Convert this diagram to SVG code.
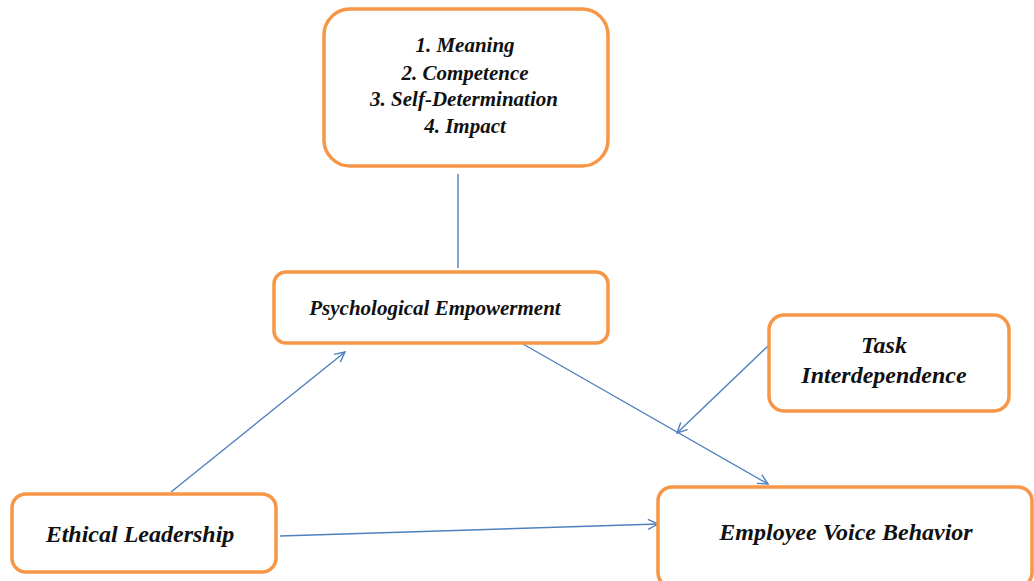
<svg xmlns="http://www.w3.org/2000/svg" width="1034" height="581" viewBox="0 0 1034 581">
  <style>
    .box { fill: #ffffff; stroke: #F79646; stroke-width: 3.5; }
    .lbl { font-family: "Liberation Serif", "Times New Roman", serif; font-style: italic; font-weight: bold; fill: #111111; text-anchor: middle; }
    .conn { stroke: #4F81BD; stroke-width: 1.4; fill: none; }
  </style>
  <defs>
    <marker id="arrow" viewBox="0 0 12 12" refX="11" refY="6" markerWidth="12" markerHeight="12" markerUnits="userSpaceOnUse" orient="auto">
      <path d="M1 1 L11 6 L1 11" fill="none" stroke="#4F81BD" stroke-width="1.4"/>
    </marker>
  </defs>
  <rect width="1034" height="581" fill="#ffffff"/>

  <g id="connectors">
    <line class="conn" x1="458" y1="174" x2="458" y2="268"/>
    <line class="conn" x1="171" y1="492" x2="345" y2="352" marker-end="url(#arrow)"/>
    <line class="conn" x1="523" y1="344" x2="768" y2="484" marker-end="url(#arrow)"/>
    <line class="conn" x1="768" y1="346" x2="677" y2="433" marker-end="url(#arrow)"/>
    <line class="conn" x1="280" y1="536" x2="658" y2="524" marker-end="url(#arrow)"/>
  </g>

  <g id="dimensions">
    <rect class="box" x="324" y="9" width="284" height="157" rx="26"/>
    <text class="lbl" font-size="21" x="465" y="52">1. Meaning</text>
    <text class="lbl" font-size="21" x="465" y="80">2. Competence</text>
    <text class="lbl" font-size="21" x="464" y="106">3. Self-Determination</text>
    <text class="lbl" font-size="21" x="465" y="133">4. Impact</text>
  </g>

  <g id="psychological-empowerment">
    <rect class="box" x="274" y="272" width="334" height="71" rx="12"/>
    <text class="lbl" font-size="21" x="435" y="315">Psychological Empowerment</text>
  </g>

  <g id="task-interdependence">
    <rect class="box" x="769" y="315" width="240" height="96" rx="15"/>
    <text class="lbl" font-size="24" x="884" y="353">Task</text>
    <text class="lbl" font-size="24" x="884" y="383">Interdependence</text>
  </g>

  <g id="ethical-leadership">
    <rect class="box" x="12" y="494" width="264" height="78" rx="14"/>
    <text class="lbl" font-size="24" x="140" y="542">Ethical Leadership</text>
  </g>

  <g id="employee-voice-behavior">
    <rect class="box" x="658" y="487" width="374" height="100" rx="14"/>
    <text class="lbl" font-size="24" x="846" y="540">Employee Voice Behavior</text>
  </g>
</svg>
